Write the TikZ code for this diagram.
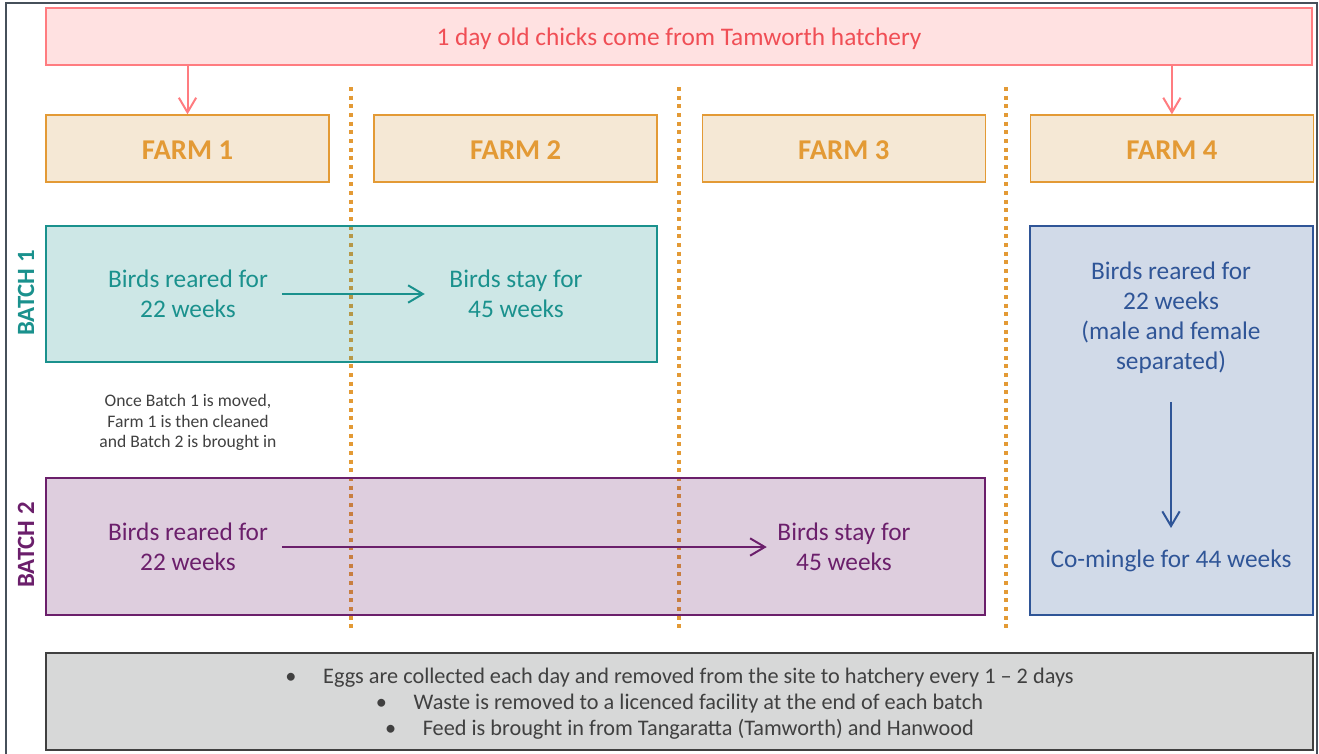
\documentclass[tikz,border=0pt]{standalone}
\usepackage{fontspec}
\setmainfont{Carlito}
\definecolor{chickLine}{HTML}{FF7C80}
\definecolor{chickText}{HTML}{F04E55}
\definecolor{chickFill}{HTML}{FFE1E1}
\definecolor{farmOrange}{HTML}{E39A35}
\definecolor{farmFill}{HTML}{F5E8D5}
\definecolor{batchTeal}{HTML}{1A918D}
\definecolor{batchPurple}{HTML}{6B1F6B}
\definecolor{farmBlue}{HTML}{2F5597}
\definecolor{noteGray}{HTML}{404040}
\definecolor{footFill}{HTML}{D7D8D8}
\definecolor{frameGray}{HTML}{46505A}
\usetikzlibrary{positioning, arrows.meta}

\begin{document}
\begin{tikzpicture}[x=0.75pt, y=-0.75pt,
    farmbox/.style={fill=farmFill, draw=farmOrange, line width=1pt, inner sep=0pt,
      minimum width=212.25pt, minimum height=50.25pt, text=farmOrange,
      text height=16.5pt, text depth=0pt,
      font=\fontsize{21.5}{24}\selectfont\bfseries},
    batchbox/.style={fill=#1, fill opacity=0.22, draw=#1, line width=1pt, inner sep=0pt},
    birdtext/.style={align=center, text=#1, font=\fontsize{19}{22.5}\selectfont},
    batchlabel/.style={rotate=90, text=#1, font=\fontsize{18.6}{20}\selectfont\bfseries},
    flow/.style={-{Straight Barb[length=11pt,width=13pt]}, line width=1.5pt, draw=#1},
    fence/.style={farmOrange, line width=3pt, dash pattern=on 3pt off 3.5pt}]

  \useasboundingbox (0,0) rectangle (1319,753);
  % outer frame
  \draw[frameGray, line width=1.5pt] (6,770) -- (6,3) -- (1317,3) -- (1317,770);

  % hatchery and farms
  \node[fill=chickFill, draw=chickLine, line width=1pt, minimum width=949.5pt,
        minimum height=42.75pt, inner sep=0pt, text=chickText,
        text height=17pt, text depth=3.8pt,
        font=\fontsize{19}{22}\selectfont] (chicks) at (679,36.5)
        {1 day old chicks come from Tamworth hatchery};
  \node[farmbox] (farm1) at (187.5,148.5) {FARM 1};
  \node[farmbox, right=32.85pt of farm1] (farm2) {FARM 2};
  \node[farmbox, right=32.85pt of farm2] (farm3) {FARM 3};
  \node[farmbox, right=32.85pt of farm3] (farm4) {FARM 4};
  \draw[flow=chickLine] (chicks.south -| farm1.north) -- (farm1.north);
  \draw[flow=chickLine] (chicks.south -| farm4.north) -- (farm4.north);

  % dotted farm boundaries
  \foreach \x in {351,679,1006}
    \draw[fence] (\x,87) -- (\x,632);

  % batch areas
  \node[batchbox=batchTeal, minimum width=458.25pt, minimum height=102pt] (batch1) at (351.5,294) {};
  \node[batchbox=batchPurple, minimum width=704.25pt, minimum height=102.75pt] (batch2) at (515.5,546.5) {};
  \node[batchbox=farmBlue, minimum width=212.25pt, minimum height=291.75pt] (batch4) at (1171.5,420.5) {};

  \node[batchlabel=batchTeal] (lab1) at (26,293) {BATCH 1};
  \node[batchlabel=batchPurple] (lab2) at (26,545) {BATCH 2};

  \node[birdtext=batchTeal] (b1rear) at (188,294) {Birds reared for\\22 weeks};
  \node[birdtext=batchTeal] (b1stay) at (516,294) {Birds stay for\\45 weeks};
  \draw[flow=batchTeal, shorten <=7pt, shorten >=15pt] (b1rear) -- (b1stay);

  \node[align=center, text=noteGray, font=\fontsize{13.2}{15.4}\selectfont] (note) at (188,422.5)
    {Once Batch 1 is moved,\\Farm 1 is then cleaned\\and Batch 2 is brought in};

  \node[birdtext=batchPurple] (b2rear) at (188,547) {Birds reared for\\22 weeks};
  \node[birdtext=batchPurple] (b2stay) at (844,547) {Birds stay for\\45 weeks};
  \draw[flow=batchPurple, shorten <=7pt, shorten >=4.5pt] (b2rear) -- (b2stay);

  \node[birdtext=farmBlue] (f4rear) at (1171,318)
    {Birds reared for\\22 weeks\\(male and female\\separated)};
  \node[birdtext=farmBlue] (mingle) at (1171,561) {Co-mingle for 44 weeks};
  \draw[flow=farmBlue, shorten <=17.5pt, shorten >=13pt] (f4rear) -- (mingle);

  % site notes
  \node[fill=footFill, draw=noteGray, line width=1.5pt, minimum width=950.25pt,
        minimum height=72.75pt, align=center, text=noteGray,
        font=\fontsize{16.7}{19.5}\selectfont] (site) at (679.5,701.5)
    {\rule{0pt}{15.5pt}\textbullet\hspace{20pt}Eggs are collected each day and removed from the site to hatchery every 1 – 2 days\\
     \textbullet\hspace{20pt}Waste is removed to a licenced facility at the end of each batch\\
     \textbullet\hspace{20pt}Feed is brought in from Tangaratta (Tamworth) and Hanwood};
\end{tikzpicture}
\end{document}
